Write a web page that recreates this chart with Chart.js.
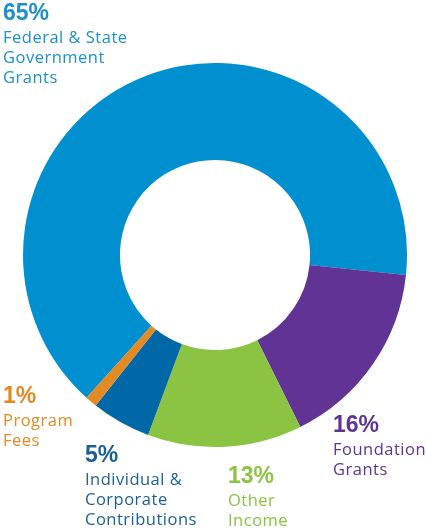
<!DOCTYPE html>
<html>
<head>
<meta charset="utf-8">
<script src="https://cdn.jsdelivr.net/npm/chart.js@4"></script>
<style>
  html, body { margin: 0; padding: 0; background: #fff; }
  #wrap { width: 426px; height: 529px; position: relative; }
</style>
</head>
<body>
<div id="wrap"><canvas id="incomeChart"></canvas></div>
<script>
// revenue sources, clockwise from the lower left
const categories = ['Federal & State\nGovernment\nGrants', 'Foundation\nGrants', 'Other\nIncome', 'Individual &\nCorporate\nContributions', 'Program\nFees'];
const shares = [65, 16, 13, 5, 1];
const sliceColors = ['#0090d0', '#613394', '#8bc343', '#0068a6', '#e38a22'];
const textColors = ['#1b8fcf', '#5f3393', '#8bc343', '#1a5e99', '#e38a22'];

// where each label block sits (left x, baseline of the percentage)
const labelSpots = [[3, 20], [333, 432], [228, 483], [85, 462], [3, 403]];

const calloutPlugin = {
  id: 'callouts',
  afterDraw(chart) {
    const c = chart.ctx;
    c.save();
    c.textAlign = 'left';
    c.textBaseline = 'alphabetic';
    shares.forEach((v, i) => {
      const [x, y] = labelSpots[i];
      c.fillStyle = textColors[i];
      c.font = 'bold 23px "Liberation Sans", Arial, sans-serif';
      c.fillText(v + '%', x, y);
      c.font = '16.5px "Open Sans", sans-serif';
      if ('letterSpacing' in c) c.letterSpacing = '0.5px';
      categories[i].split('\n').forEach((line, j) => {
        c.fillText(line, x, y + 23 + j * 20);
      });
      if ('letterSpacing' in c) c.letterSpacing = '0px';
    });
    c.restore();
  }
};

const ctx = document.getElementById('incomeChart').getContext('2d');
new Chart(ctx, {
  type: 'doughnut',
  data: {
    labels: categories,
    datasets: [{
      data: shares,
      backgroundColor: sliceColors,
      borderWidth: 0
    }]
  },
  options: {
    responsive: true,
    maintainAspectRatio: false,
    animation: false,
    rotation: 222,
    cutout: '49.5%',
    layout: { padding: { left: 23, right: 19, top: 63, bottom: 82 } },
    plugins: {
      legend: { display: false },
      tooltip: { enabled: false }
    }
  },
  plugins: [calloutPlugin]
});
</script>
</body>
</html>
